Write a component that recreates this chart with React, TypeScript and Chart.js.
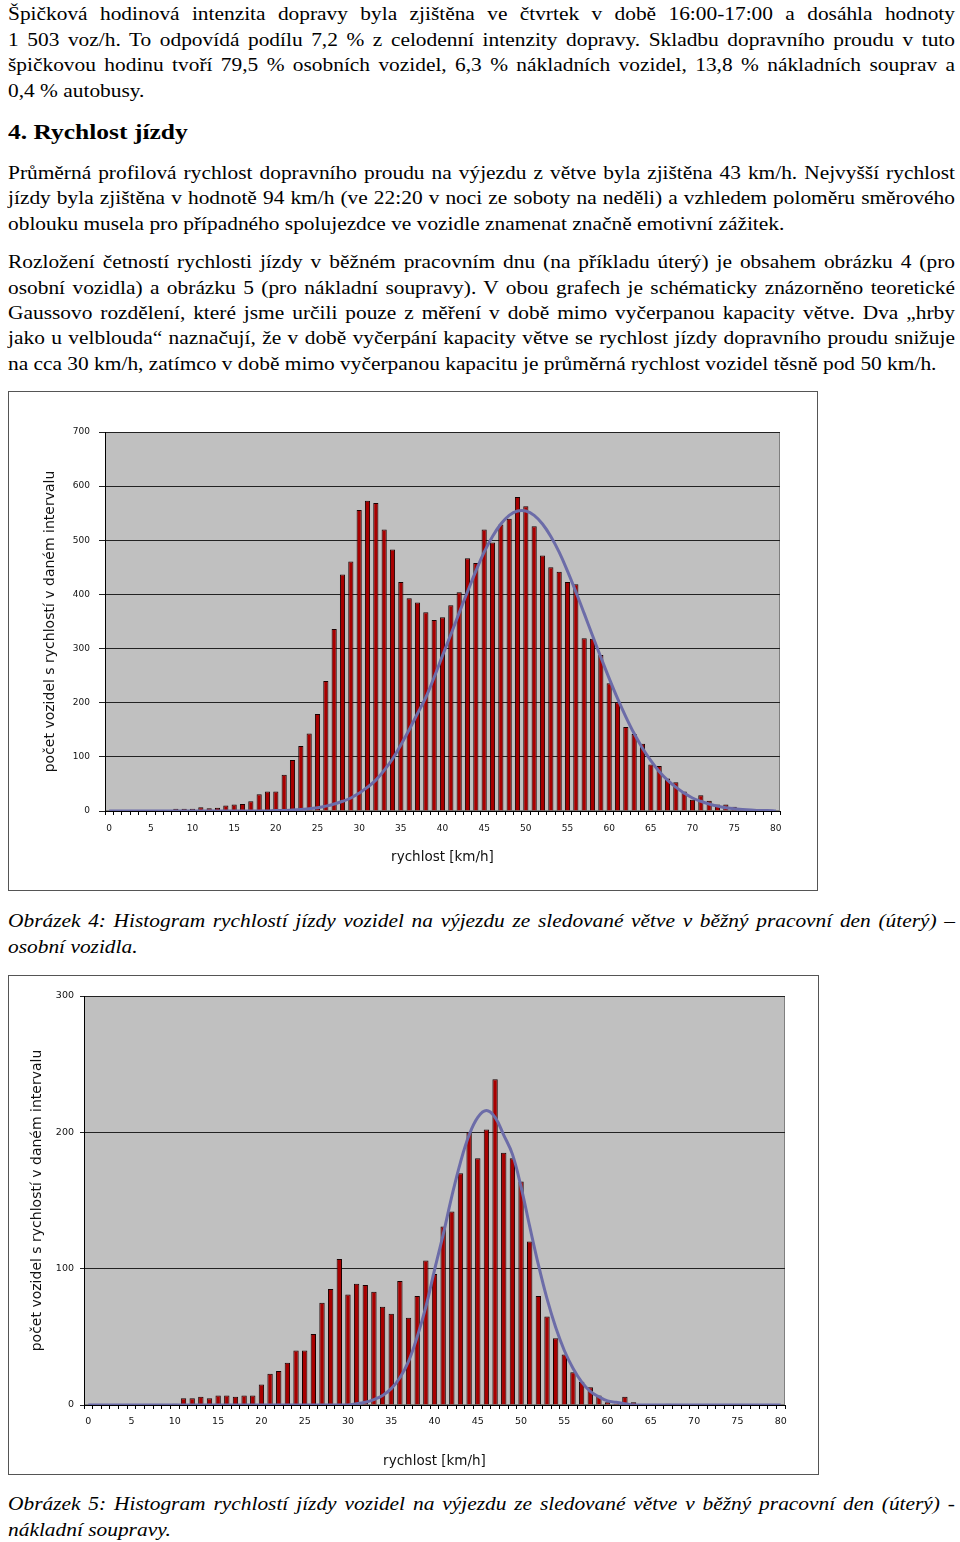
import React, { useEffect, useRef } from "react";
import { Chart, registerables } from "chart.js";

Chart.register(...registerables);

// ---------- DATA ----------
const speedLabels: string[] = [
  "0", "1", "2", "3", "4", "5", "6", "7", "8", "9",
  "10", "11", "12", "13", "14", "15", "16", "17", "18", "19",
  "20", "21", "22", "23", "24", "25", "26", "27", "28", "29",
  "30", "31", "32", "33", "34", "35", "36", "37", "38", "39",
  "40", "41", "42", "43", "44", "45", "46", "47", "48", "49",
  "50", "51", "52", "53", "54", "55", "56", "57", "58", "59",
  "60", "61", "62", "63", "64", "65", "66", "67", "68", "69",
  "70", "71", "72", "73", "74", "75", "76", "77", "78", "79",
  "80",
];

// Obrázek 4 – osobní vozidla (counts per 1 km/h interval)
const carCounts: number[] = [
  0, 0, 0, 0, 0, 0, 0, 0, 4, 4,
  4, 7, 5, 6, 10, 12, 13, 18, 31, 36,
  36, 67, 94, 120, 143, 179, 240, 336, 437, 461,
  556, 573, 569, 520, 483, 423, 393, 385, 367, 353,
  358, 380, 404, 467, 458, 520, 496, 529, 540, 580,
  563, 526, 472, 450, 442, 423, 419, 319, 318, 288,
  236, 201, 155, 142, 124, 86, 83, 60, 53, 36,
  21, 29, 19, 12, 12, 8, 3, 2, 1, 0,
  0,
];
// theoretical Gauss curve
const carGauss: number[] = [
  0, 0, 0, 0, 0, 0, 0, 0, 0, 0,
  0, 0, 0, 0, 0, 0, 0, 0, 0, 0,
  1, 1, 2, 3, 4, 6, 9, 13, 18, 24,
  33, 44, 57, 75, 96, 122, 150, 180, 210, 247,
  287, 326, 366, 405, 443, 478, 507, 530, 546, 554,
  554, 546, 530, 507, 478, 443, 405, 365, 324, 284,
  245, 208, 174, 143, 116, 93, 73, 57, 44, 33,
  24, 18, 13, 9, 6, 4, 3, 2, 1, 1,
  0,
];

// Obrázek 5 – nákladní soupravy
const truckCounts: number[] = [
  0, 0, 0, 0, 0, 0, 0, 0, 0, 0,
  1, 5, 5, 6, 5, 7, 7, 6, 7, 7,
  15, 23, 25, 31, 40, 40, 52, 75, 85, 107,
  81, 89, 88, 83, 72, 67, 91, 64, 80, 106,
  96, 131, 142, 170, 200, 181, 202, 239, 185, 181,
  164, 120, 80, 65, 49, 37, 24, 17, 13, 7,
  2, 1, 6, 2, 0, 0, 0, 1, 0, 0,
  0, 0, 0, 0, 0, 0, 0, 0, 0, 0,
  0,
];
const truckGauss: number[] = [
  0, 0, 0, 0, 0, 0, 0, 0, 0, 0,
  0, 0, 0, 0, 0, 0, 0, 0, 0, 0,
  0, 0, 0, 0, 0, 0, 0, 0, 0, 0,
  0, 1, 2, 4, 7, 12, 20, 32, 50, 72,
  99, 125, 153, 178, 198, 211, 216, 211, 198, 184,
  160, 131, 103, 78, 57, 40, 27, 17, 10, 6,
  3, 2, 1, 0, 0, 0, 0, 0, 0, 0,
  0, 0, 0, 0, 0, 0, 0, 0, 0, 0,
  0,
];

const yTitle = "počet vozidel s rychlostí v daném intervalu";
const xTitle = "rychlost [km/h]";

// ---------- TEXT ----------
const para1: string[] = [
  "Špičková hodinová intenzita dopravy byla zjištěna ve čtvrtek v době 16:00-17:00 a dosáhla hodnoty",
  "1 503 voz/h. To odpovídá podílu 7,2 % z celodenní intenzity dopravy. Skladbu dopravního proudu v tuto",
  "špičkovou hodinu tvoří 79,5 % osobních vozidel, 6,3 % nákladních vozidel, 13,8 % nákladních souprav a",
  "0,4 % autobusy.",
];
const heading = "4. Rychlost jízdy";
const para2: string[] = [
  "Průměrná profilová rychlost dopravního proudu na výjezdu z větve byla zjištěna 43 km/h. Nejvyšší rychlost",
  "jízdy byla zjištěna v hodnotě 94 km/h (ve 22:20 v noci ze soboty na neděli) a vzhledem poloměru směrového",
  "oblouku musela pro případného spolujezdce ve vozidle znamenat značně emotivní zážitek.",
];
const para3: string[] = [
  "Rozložení četností rychlosti jízdy v běžném pracovním dnu (na příkladu úterý) je obsahem obrázku 4 (pro",
  "osobní vozidla) a obrázku 5 (pro nákladní soupravy). V obou grafech je schématicky znázorněno teoretické",
  "Gaussovo rozdělení, které jsme určili pouze z měření v době mimo vyčerpanou kapacity větve. Dva „hrby",
  "jako u velblouda“ naznačují, že v době vyčerpání kapacity větve se rychlost jízdy dopravního proudu snižuje",
  "na cca 30 km/h, zatímco v době mimo vyčerpanou kapacitu je průměrná rychlost vozidel těsně pod 50 km/h.",
];
const caption1: string[] = [
  "Obrázek 4: Histogram rychlostí jízdy vozidel na výjezdu ze sledované větve v běžný pracovní den (úterý) –",
  "osobní vozidla.",
];
const caption2: string[] = [
  "Obrázek 5: Histogram rychlostí jízdy vozidel na výjezdu ze sledované větve v běžný pracovní den (úterý) -",
  "nákladní soupravy.",
];

const SERIF = '"Liberation Serif", "Times New Roman", Times, serif';
const SANS = '"DejaVu Sans", Verdana, sans-serif';

const plotBg = {
  id: "plotBg",
  beforeDraw(chart: any) {
    const { ctx, chartArea } = chart;
    const { left, top, width, height } = chartArea;
    ctx.save();
    ctx.fillStyle = "#C0C0C0";
    ctx.fillRect(left, top, width, height);
    ctx.strokeStyle = "#808080";
    ctx.lineWidth = 1;
    ctx.strokeRect(left + 0.5, top + 0.5, width - 1, height - 1);
    ctx.restore();
  },
};

type HistProps = {
  counts: number[];
  gauss: number[];
  yMax: number;
  width: number;
  height: number;
  pad: { left: number; right: number; top: number; bottom: number };
  yWidth: number;
  xHeight: number;
  tickFont: number;
  xTickPad: number;
  yTickPad: number;
  yTickLen: number;
};

function Histogram(p: HistProps) {
  const ref = useRef<HTMLCanvasElement | null>(null);
  useEffect(() => {
    if (!ref.current) return;
    const chart = new Chart(ref.current, {
      type: "bar",
      data: {
        labels: speedLabels,
        datasets: [
          {
            type: "line",
            data: p.gauss,
            borderColor: "#6C6CA8",
            borderWidth: 3,
            pointRadius: 0,
            tension: 0.4,
            fill: false,
            order: 0,
          } as any,
          {
            type: "bar",
            data: p.counts,
            backgroundColor: "#A80000",
            borderColor: "#1A0000",
            borderWidth: 1,
            barPercentage: 0.62,
            categoryPercentage: 1,
            order: 1,
          } as any,
        ],
      },
      options: {
        responsive: false,
        animation: false,
        devicePixelRatio: 1,
        layout: { padding: p.pad },
        plugins: { legend: { display: false }, tooltip: { enabled: false } },
        scales: {
          x: {
            type: "category",
            offset: true,
            grid: {
              offset: true,
              drawOnChartArea: false,
              drawTicks: true,
              tickLength: 4,
              color: "#000",
            },
            border: { display: true, color: "#000", width: 1 },
            ticks: {
              autoSkip: false,
              maxRotation: 0,
              minRotation: 0,
              padding: p.xTickPad,
              color: "#111",
              font: { family: SANS, size: p.tickFont },
              callback: (_v: any, i: number) => (i % 5 === 0 ? speedLabels[i] : ""),
            },
            title: {
              display: true,
              text: xTitle,
              color: "#111",
              font: { family: SANS, size: 13.5 },
              padding: { top: 4, bottom: 4 },
            },
            afterFit: (s: any) => {
              s.height = p.xHeight;
            },
          },
          y: {
            min: 0,
            max: p.yMax,
            grid: { color: "#222", lineWidth: 1, tickLength: p.yTickLen, drawTicks: true },
            border: { display: true, color: "#000", width: 1 },
            ticks: {
              stepSize: 100,
              padding: p.yTickPad,
              color: "#111",
              font: { family: SANS, size: p.tickFont },
            },
            title: {
              display: true,
              text: yTitle,
              color: "#111",
              font: { family: SANS, size: 14 },
              padding: { top: 4, bottom: 4 },
            },
            afterFit: (s: any) => {
              s.width = p.yWidth;
            },
          },
        },
      } as any,
      plugins: [plotBg],
    });
    return () => chart.destroy();
  }, []);
  return <canvas ref={ref} width={p.width} height={p.height} style={{ display: "block" }} />;
}

function Line({ y, text, justify = true, italic = false }: { y: number; text: string; justify?: boolean; italic?: boolean }) {
  return (
    <div
      style={{
        position: "absolute",
        left: 8,
        top: y - 13,
        width: 947,
        height: 26,
        lineHeight: "26px",
        fontFamily: SERIF,
        fontSize: 21.4,
        fontStyle: italic ? "italic" : "normal",
        whiteSpace: "nowrap",
        textAlign: justify ? "justify" : "left",
        textAlignLast: justify ? "justify" : "left",
        transform: "scaleY(0.84)",
        color: "#000",
      } as any}
    >
      {text}
    </div>
  );
}

export default function App() {
  const p1Y = [14, 40, 65, 91];
  const p2Y = [173, 198, 224];
  const p3Y = [262, 288, 313, 338, 364];
  const c1Y = [921, 947];
  const c2Y = [1504, 1530];
  return (
    <div style={{ position: "absolute", left: 0, top: 0, width: 960, height: 1542, background: "#fff" }}>
      {para1.map((t, i) => (
        <Line key={"a" + i} y={p1Y[i]} text={t} justify={i < para1.length - 1} />
      ))}
      <div
        style={{
          position: "absolute",
          left: 8,
          top: 132 - 15,
          height: 30,
          lineHeight: "30px",
          fontFamily: SERIF,
          fontSize: 25.5,
          fontWeight: "bold",
          whiteSpace: "nowrap",
          transform: "scaleY(0.84)",
        }}
      >
        {heading}
      </div>
      {para2.map((t, i) => (
        <Line key={"b" + i} y={p2Y[i]} text={t} justify={i < para2.length - 1} />
      ))}
      {para3.map((t, i) => (
        <Line key={"c" + i} y={p3Y[i]} text={t} justify={i < para3.length - 1} />
      ))}
      <div
        style={{
          position: "absolute",
          left: 8,
          top: 391,
          width: 810,
          height: 500,
          boxSizing: "border-box",
          border: "1px solid #555",
        }}
      >
        <Histogram
          counts={carCounts}
          gauss={carGauss}
          yMax={700}
          width={808}
          height={498}
          pad={{ left: 29, right: 37, top: 40, bottom: 20 }}
          yWidth={67}
          xHeight={59}
          tickFont={9}
          xTickPad={8}
          yTickPad={9}
          yTickLen={6}
        />
      </div>
      {caption1.map((t, i) => (
        <Line key={"d" + i} y={c1Y[i]} text={t} italic justify={i < caption1.length - 1} />
      ))}
      <div
        style={{
          position: "absolute",
          left: 8,
          top: 975,
          width: 811,
          height: 500,
          boxSizing: "border-box",
          border: "1px solid #555",
        }}
      >
        <Histogram
          counts={truckCounts}
          gauss={truckGauss}
          yMax={300}
          width={809}
          height={498}
          pad={{ left: 16, right: 33, top: 20, bottom: 0 }}
          yWidth={59}
          xHeight={69}
          tickFont={9.5}
          xTickPad={7}
          yTickPad={6}
          yTickLen={4}
        />
      </div>
      {caption2.map((t, i) => (
        <Line key={"e" + i} y={c2Y[i]} text={t} italic justify={i < caption2.length - 1} />
      ))}
    </div>
  );
}
